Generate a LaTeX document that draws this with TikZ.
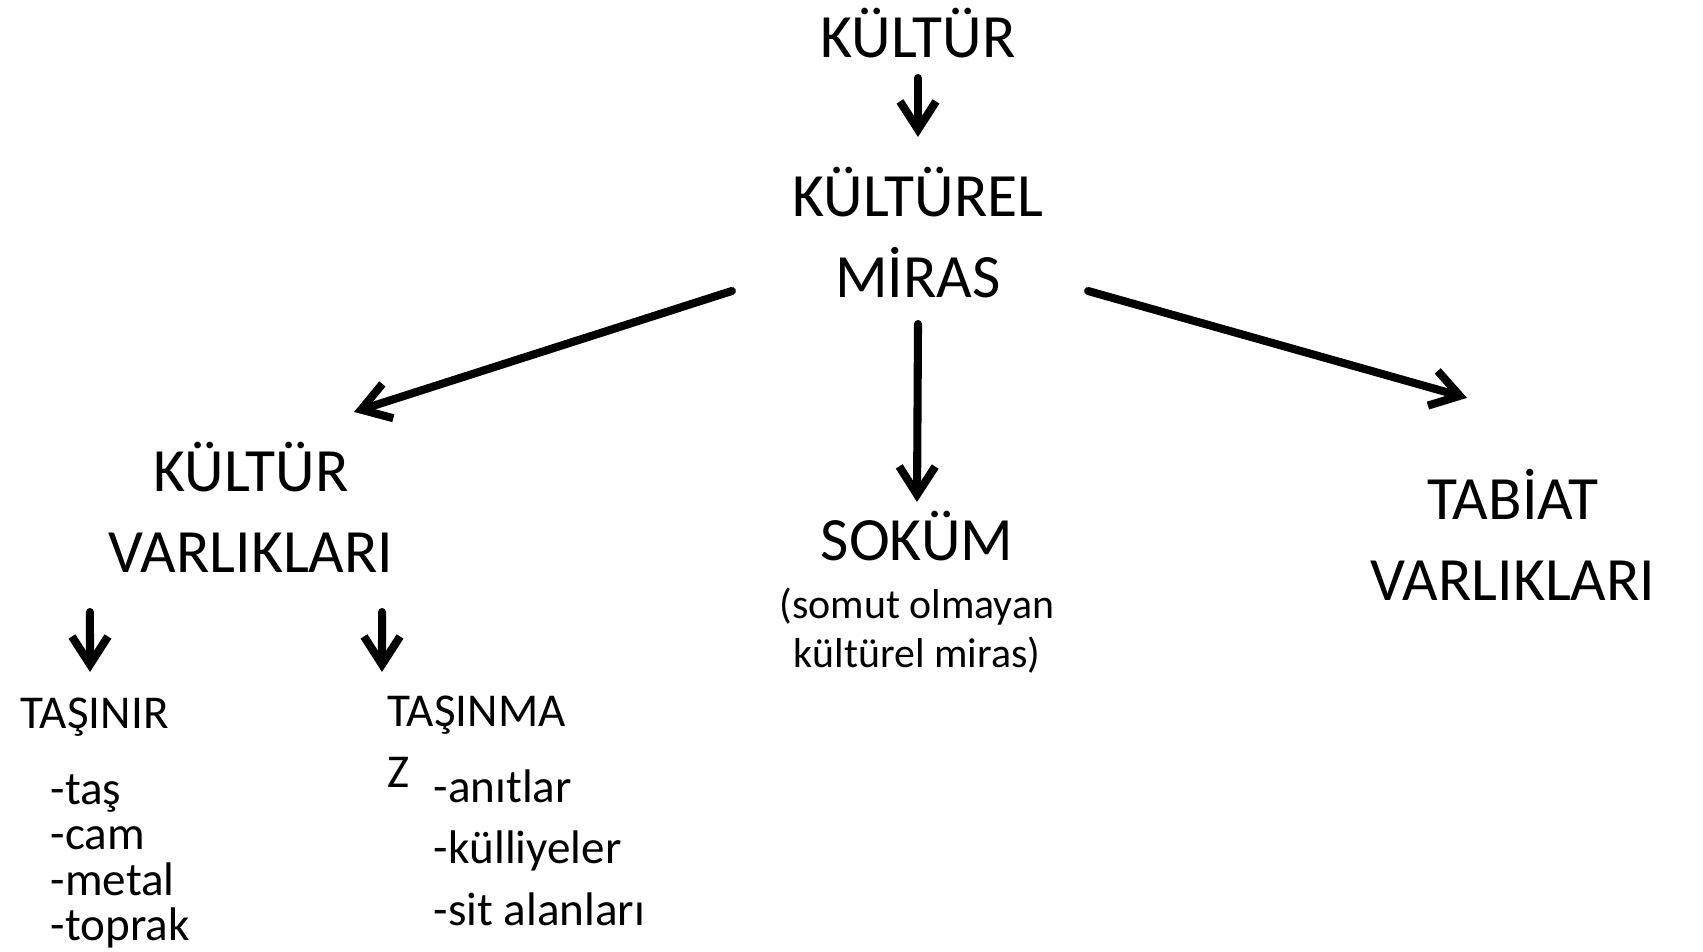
\documentclass[tikz,border=0pt]{standalone}
\usepackage{fontspec}
\setmainfont{Carlito}
\usetikzlibrary{arrows.meta}

\tikzset{
  bigtext/.style={font=\fontsize{17.5}{22.8}\selectfont, inner sep=0pt, align=center, anchor=base},
  subtext/.style={font=\fontsize{11.9}{13.9}\selectfont, inner sep=0pt, align=center, anchor=base},
  smalltext/.style={font=\fontsize{13.4}{12.8}\selectfont, inner sep=0pt, align=left, anchor=base west},
  arr/.style={-{Straight Barb[length=2.8mm,width=3.6mm]}, line width=2.3pt, line cap=round}
}

\begin{document}
\begin{tikzpicture}[x=0.01cm, y=-0.01cm]
    \useasboundingbox (0,0) rectangle (1703,951);

    % Nodes (multi-line nodes are placed by the baseline of their last line)
    \node[bigtext] (kultur) at (918,57) {KÜLTÜR};
    \node[bigtext] (miras) at (918,297) {KÜLTÜREL\\MİRAS};
    \node[bigtext] (varlik) at (251,572) {KÜLTÜR\\VARLIKLARI};
    \node[bigtext] (sokum) at (917,560) {SOKÜM};
    \node[subtext] (somut) at (917,667) {(somut olmayan\\kültürel miras)};
    \node[bigtext] (tabiat) at (1513,600) {TABİAT\\VARLIKLARI};
    \node[smalltext] (tasinir) at (20,728) {TAŞINIR};
    \node[smalltext, font=\fontsize{13.4}{17.1}\selectfont] (tasinmaz) at (387,787) {TAŞINMA\\Z};
    \node[smalltext] (tasinirlist) at (50,940) {-taş\\-cam\\-metal\\-toprak};
    \node[smalltext, font=\fontsize{13.4}{17.4}\selectfont] (tasinmazlist) at (433,925) {-anıtlar\\-külliyeler\\-sit alanları};

    % Arrows
    \draw[arr] ([yshift=-0.21cm]kultur.base) -- ([yshift=1.60cm]miras.base);
    \draw[arr] ([xshift=-1.86cm,yshift=0.06cm]miras.base) -- ([xshift=1.03cm,yshift=1.60cm]varlik.base);
    \draw[arr] ([yshift=-0.27cm]miras.base) -- ([yshift=0.58cm]sokum.base);
    \draw[arr] ([xshift=1.70cm,yshift=0.06cm]miras.base) -- ([xshift=-0.46cm,yshift=2.02cm]tabiat.base);
    \draw[arr] ([xshift=-1.61cm,yshift=-0.40cm]varlik.base) -- ([xshift=0.70cm,yshift=0.56cm]tasinir.base west);
    \draw[arr] ([xshift=1.31cm,yshift=-0.40cm]varlik.base) -- ([xshift=-0.05cm,yshift=1.15cm]tasinmaz.base west);
\end{tikzpicture}
\end{document}
